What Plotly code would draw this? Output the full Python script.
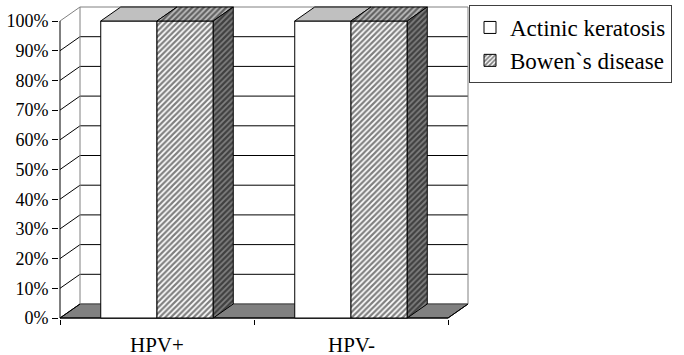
import plotly.graph_objects as go

# ---- data -------------------------------------------------------------
categories = ["HPV+", "HPV-"]
series_names = ["Actinic keratosis", "Bowen`s disease"]
actinic = [100, 100]
bowen = [100, 100]
y_ticks = list(range(0, 101, 10))
y_tick_text = [f"{v}%" for v in y_ticks]

# ---- page geometry (pixels) -------------------------------------------
FONT = "Liberation Serif"
W, H = 684, 355
PX_LEFT, PX_RIGHT = 60, 448      # front edge of the floor
PX_FLOOR, PX_TOP100 = 318, 21    # 0 % and 100 % on the front plane
DEPTH_X, DEPTH_Y = 20, 14        # 3-D depth offset of walls and bars
PAD_L, PAD_B, PAD_T, PAD_R = 1, 1, 2, 2

n = len(categories)
px_per_cat = (PX_RIGHT - PX_LEFT) / n
px_per_pct = (PX_FLOOR - PX_TOP100) / 100
dx = DEPTH_X / px_per_cat
dy = DEPTH_Y / px_per_pct

x_lo = -0.5 - PAD_L / px_per_cat
x_hi = n - 0.5 + (DEPTH_X + PAD_R) / px_per_cat
y_lo = -PAD_B / px_per_pct
y_hi = 100 + (DEPTH_Y + PAD_T) / px_per_pct

plot_l = PX_LEFT - PAD_L
plot_r = PX_RIGHT + DEPTH_X + PAD_R
plot_t = PX_TOP100 - DEPTH_Y - PAD_T
plot_b = PX_FLOOR + PAD_B
plot_w = plot_r - plot_l
plot_h = plot_b - plot_t

BARGAP = 0.42
bar_w = (1 - BARGAP) / 2

LIGHT = "#c0c0c0"
DARK = "#808080"
WALL = "#808080"


def hatch(bg):
    return dict(shape="/", fgcolor="black", bgcolor=bg, size=4, solidity=0.55)


fig = go.Figure()

# front faces of the columns
fig.add_trace(go.Bar(
    x=categories, y=actinic, name=series_names[0], legendgroup="a",
    marker=dict(color="white", line=dict(color="black", width=1)),
    hoverinfo="skip",
))
fig.add_trace(go.Bar(
    x=categories, y=bowen, name=series_names[1], legendgroup="b",
    marker=dict(color="white", line=dict(color="black", width=1),
                pattern=hatch("white")),
    hoverinfo="skip",
))


def face(xs, ys, fill, pattern=None):
    kw = dict(fillpattern=pattern) if pattern else {}
    fig.add_trace(go.Scatter(
        x=xs + [xs[0]], y=ys + [ys[0]], xaxis="x2", mode="lines",
        fill="toself", fillcolor=fill,
        line=dict(color="black", width=1),
        showlegend=False, hoverinfo="skip", **kw,
    ))


# top and side faces of the columns
for i in range(n):
    for j, vals in enumerate([actinic, bowen]):
        v = vals[i]
        L = i - (1 - BARGAP) / 2 + j * bar_w
        R = L + bar_w
        if j == 0:
            face([L, R, R + dx, L + dx], [v, v, v + dy, v + dy], LIGHT)
        else:
            face([L, R, R + dx, L + dx], [v, v, v + dy, v + dy], LIGHT, hatch(LIGHT))
            face([R, R + dx, R + dx, R], [0, dy, v + dy, v], DARK, hatch(DARK))

# walls, floor and gridlines
x0, x1 = -0.5, n - 0.5
shapes = []


def seg(xa, ya, xb, yb, color, width=1):
    shapes.append(dict(type="line", xref="x", yref="y", x0=xa, y0=ya, x1=xb, y1=yb,
                       line=dict(color=color, width=width), layer="below"))


shapes.append(dict(
    type="path", xref="x", yref="y", layer="below",
    path=f"M{x0},0 L{x1},0 L{x1 + dx},{dy} L{x0 + dx},{dy} Z",
    fillcolor=DARK, line=dict(color="black", width=1),
))
for v in y_ticks[1:-1]:
    seg(x0, v, x0 + dx, v + dy, "black")
    seg(x0 + dx, v + dy, x1 + dx, v + dy, "black")
# wall borders
seg(x0 + dx, dy, x1 + dx, dy, WALL)
seg(x0 + dx, dy, x0 + dx, 100 + dy, WALL)
seg(x0 + dx, 100 + dy, x1 + dx, 100 + dy, WALL)
seg(x1 + dx, dy, x1 + dx, 100 + dy, WALL)
seg(x0, 100, x0 + dx, 100 + dy, WALL)
# axis lines
seg(x0, 0, x0 + dx, dy, "black")
seg(x1, 0, x1 + dx, dy, "black")
seg(x0, 0, x0, 100, "black")
seg(x0, 0, x1, 0, "black")

# category labels, centred under each category
for i, cat in enumerate(categories):
    fig.add_annotation(x=i, xref="x", y=0, yref="paper", yshift=-15,
                       yanchor="top", height=20, borderpad=0,
                       text=cat, showarrow=False,
                       font=dict(family=FONT, size=21, color="black"))

fig.update_layout(
    width=W, height=H,
    margin=dict(l=plot_l, r=W - plot_r, t=plot_t, b=H - plot_b, autoexpand=False),
    paper_bgcolor="white", plot_bgcolor="white",
    font=dict(family=FONT, color="black"),
    barmode="group", bargap=BARGAP, bargroupgap=0,
    shapes=shapes,
    showlegend=True,
    legend=dict(
        x=(469 - plot_l) / plot_w, y=1 - (5 - plot_t) / plot_h,
        xanchor="left", yanchor="top",
        bgcolor="white", bordercolor="#404040", borderwidth=1,
        font=dict(family=FONT, size=23, color="black"),
        tracegroupgap=6, traceorder="normal",
    ),
    xaxis=dict(
        type="category", range=[x_lo, x_hi], tickson="boundaries",
        ticks="outside", ticklen=5, tickcolor="black", tickwidth=1,
        showticklabels=False,
        showgrid=False, showline=False, zeroline=False, fixedrange=True,
    ),
    xaxis2=dict(overlaying="x", range=[x_lo, x_hi], visible=False, type="linear"),
    yaxis=dict(
        range=[y_lo, y_hi], tickmode="array", tickvals=y_ticks, ticktext=y_tick_text,
        ticks="outside", ticklen=6, tickcolor="black", tickwidth=1,
        showgrid=False, showline=False, zeroline=False,
        tickfont=dict(family=FONT, size=18, color="black"),
    ),
)

fig.write_html("out.html")
